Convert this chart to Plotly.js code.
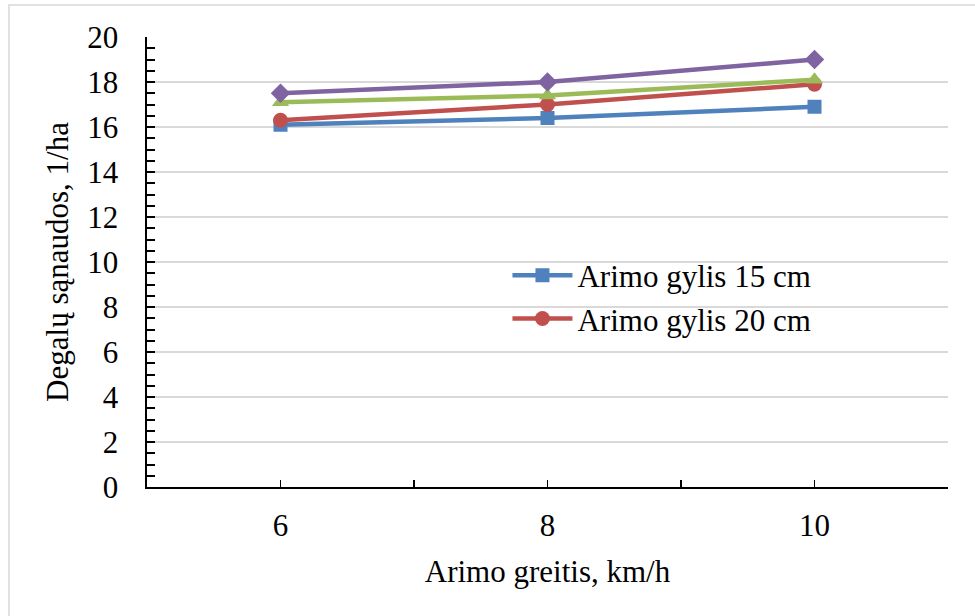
<!DOCTYPE html>
<html>
<head>
<meta charset="utf-8">
<script src="https://cdn.plot.ly/plotly-3.0.1.min.js"></script>
<style>html,body{margin:0;padding:0;background:#fff;}#chart{width:975px;height:616px;}</style>
</head>
<body>
<div id="chart"></div>
<script>
var speeds = [6, 8, 10];
var depth15 = [16.1, 16.4, 16.9];
var depth20 = [16.3, 17.0, 17.9];
var depth25 = [17.1, 17.4, 18.1];
var depth30 = [17.5, 18.0, 19.0];
var seriesNames = ['Arimo gylis 15 cm', 'Arimo gylis 20 cm', 'Arimo gylis 25 cm', 'Arimo gylis 30 cm'];
var xTitle = 'Arimo greitis, km/h';
var yTitle = 'Degalų sąnaudos, 1/ha';

function mk(y, name, color, symbol, show, size) {
  return {
    x: speeds, y: y, name: name, type: 'scatter', mode: 'lines+markers',
    line: {color: color, width: 4.5},
    marker: {color: color, symbol: symbol, size: size},
    showlegend: show
  };
}
var data = [
  mk(depth15, seriesNames[0], '#4F81BD', 'square', true, 14),
  mk(depth20, seriesNames[1], '#C0504D', 'circle', true, 15),
  mk(depth25, seriesNames[2], '#9BBB59', 'triangle-up', false, 15),
  mk(depth30, seriesNames[3], '#8064A2', 'diamond', false, 15)
];
var font = {family: 'Times New Roman, Liberation Serif, DejaVu Serif, serif', size: 31, color: '#000'};
var layout = {
  width: 975, height: 616,
  margin: {l: 147, r: 27, t: 37, b: 129},
  paper_bgcolor: '#fff', plot_bgcolor: '#fff',
  font: font,
  xaxis: {
    range: [5, 11], tickvals: speeds, ticks: 'inside', ticklen: 7, tickwidth: 1.5, tickcolor: '#000',
    minor: {dtick: 1, tick0: 5, ticks: 'inside', ticklen: 7, tickwidth: 1.5, tickcolor: '#000', showgrid: false},
    showline: true, linecolor: '#000', linewidth: 2, showgrid: false, zeroline: false,
    ticklabelstandoff: 10, tickfont: font,
    title: {text: xTitle, font: font, standoff: 18}
  },
  yaxis: {
    range: [0, 20], dtick: 2, ticks: 'inside', ticklen: 8, tickwidth: 2, tickcolor: '#000',
    minor: {dtick: 0.5, ticks: 'inside', ticklen: 8, tickwidth: 2, tickcolor: '#000', showgrid: false},
    showline: true, linecolor: '#000', linewidth: 2.5, showgrid: true, gridcolor: '#d9d9d9', gridwidth: 1.5,
    zeroline: false, ticklabelstandoff: 20, tickfont: font,
    title: {text: yTitle, font: font, standoff: 10}
  },
  legend: {x: 0.45, y: 0.53, xanchor: 'left', yanchor: 'top', bgcolor: 'rgba(0,0,0,0)', font: font,
           itemwidth: 60, tracegroupgap: 0},
  shapes: [{type: 'rect', xref: 'paper', yref: 'paper', x0: -0.1723, x1: 1.05, y0: -0.31, y1: 1.0711,
            line: {color: '#d9d9d9', width: 1.5}, fillcolor: 'rgba(0,0,0,0)', layer: 'below'}]
};
Plotly.newPlot('chart', data, layout, {displayModeBar: false, staticPlot: true});
</script>
</body>
</html>
